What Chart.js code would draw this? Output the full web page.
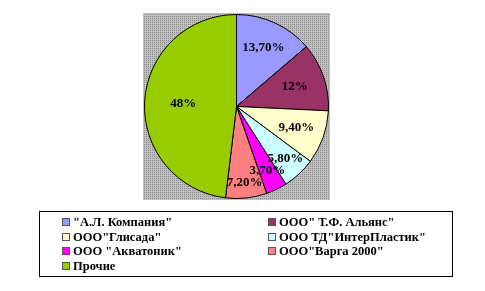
<!DOCTYPE html>
<html>
<head>
<meta charset="utf-8">
<script src="https://cdn.jsdelivr.net/npm/chart.js@4"></script>
<style>
    body { margin: 0; background: #fff; }
    #wrap { position: relative; width: 485px; height: 291px; }
    #legend {
        position: absolute; left: 39px; top: 211px; width: 414px; height: 66px;
        border: 1px solid #000; box-sizing: border-box;
        font: bold 12.5px "Liberation Serif", "Times New Roman", Tinos, "DejaVu Serif"; color: #000;
    }
    .item { position: absolute; height: 15px; line-height: 15px; white-space: nowrap; }
    .box { display: inline-block; width: 6px; height: 6px; border: 1px solid #555; margin-right: 3px; vertical-align: 0px; }
</style>
</head>
<body>
<div id="wrap">
    <canvas id="pieChart" width="485" height="291"></canvas>
    <div id="legend"></div>
</div>
<script>
const companies = [
    "\"А.Л. Компания\"",
    "ООО\" Т.Ф. Альянс\"",
    "ООО\"Глисада\"",
    "ООО ТД\"ИнтерПластик\"",
    "ООО \"Акватоник\"",
    "ООО\"Варга 2000\"",
    "Прочие"
];

const shares = [13.7, 12, 9.4, 5.8, 3.7, 7.2, 48];

const shareLabels = ["13,70%", "12%", "9,40%", "5,80%", "3,70%", "7,20%", "48%"];

const colors = ["#9999FF", "#993366", "#FFFFCC", "#CCFFFF", "#FF00FF", "#FF8080", "#99CC00"];

// how far out each label sits, as a fraction of the radius
const labelRadius = [0.7, 0.67, 0.69, 0.78, 0.77, 0.83, 0.58];

function makeGray(ctx) {
    const c = document.createElement("canvas");
    c.width = 2;
    c.height = 2;
    const g = c.getContext("2d");
    g.fillStyle = "#c0c0c0";
    g.fillRect(0, 0, 2, 2);
    g.fillStyle = "#8a8a8a";
    g.fillRect(0, 0, 1, 1);
    return ctx.createPattern(c, "repeat");
}

const plotBackground = {
    id: "plotBackground",
    beforeDraw(chart) {
        const ctx = chart.ctx;
        const a = chart.chartArea;
        ctx.save();
        ctx.fillStyle = makeGray(ctx);
        ctx.fillRect(a.left - 1, a.top - 1, a.right - a.left + 2, a.bottom - a.top + 2);
        ctx.restore();
    }
};

const sliceLabels = {
    id: "sliceLabels",
    afterDatasetsDraw(chart) {
        const ctx = chart.ctx;
        const arcs = chart.getDatasetMeta(0).data;
        ctx.save();
        ctx.font = "bold 13px 'Liberation Serif', 'Times New Roman', Tinos, 'DejaVu Serif'";
        ctx.fillStyle = "#000";
        ctx.textAlign = "center";
        ctx.textBaseline = "middle";
        arcs.forEach((arc, i) => {
            const mid = (arc.startAngle + arc.endAngle) / 2;
            const r = arc.outerRadius * labelRadius[i];
            ctx.fillText(shareLabels[i], arc.x + Math.cos(mid) * r, arc.y + Math.sin(mid) * r);
        });
        ctx.restore();
    }
};

new Chart(document.getElementById("pieChart"), {
    type: "pie",
    data: {
        labels: companies,
        datasets: [{
            data: shares,
            backgroundColor: colors,
            borderColor: "#000",
            borderWidth: 1
        }]
    },
    options: {
        responsive: false,
        animation: false,
        layout: {
            padding: { left: 144, right: 156, top: 14, bottom: 92 }
        },
        plugins: {
            legend: { display: false },
            tooltip: { enabled: false }
        }
    },
    plugins: [plotBackground, sliceLabels]
});

// legend in a box, two columns
const legend = document.getElementById("legend");
companies.forEach((name, i) => {
    const col = i % 2;
    const row = Math.floor(i / 2);
    const item = document.createElement("div");
    item.className = "item";
    item.style.left = (col === 0 ? 22 : 228) + "px";
    item.style.top = (3 + row * 14.7) + "px";
    const box = document.createElement("span");
    box.className = "box";
    box.style.background = colors[i];
    item.appendChild(box);
    item.appendChild(document.createTextNode(name));
    legend.appendChild(item);
});
</script>
</body>
</html>
